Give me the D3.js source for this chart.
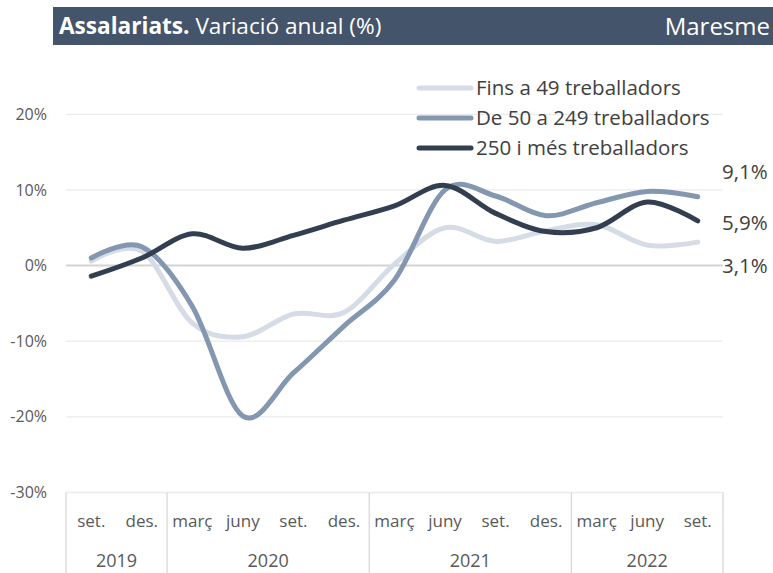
<!DOCTYPE html>
<html>
<head>
<meta charset="utf-8">
<script src="https://cdn.jsdelivr.net/npm/d3@7"></script>
<style>
  body { margin: 0; background: #fff; }
  text { font-family: "Open Sans", Lato, sans-serif; }
</style>
</head>
<body>
<div id="chart"></div>
<script>
// Categories (quarters) and the year groups under them
const months = ["set.", "des.", "març", "juny", "set.", "des.", "març", "juny", "set.", "des.", "març", "juny", "set."];
const years = ["2019", "2020", "2021", "2022"];
const quartersPerYear = [2, 4, 4, 3];

// Series values (% annual change)
const fins49 = [0.6, 1.9, -7.6, -9.4, -6.4, -6.2, 0.2, 5.0, 3.2, 4.6, 5.4, 2.7, 3.1];
const de50a249 = [1.0, 2.5, -5.4, -19.9, -14.2, -8.0, -1.9, 10.0, 9.2, 6.6, 8.3, 9.8, 9.1];
const mes250 = [-1.4, 1.0, 4.2, 2.3, 4.0, 6.0, 7.9, 10.6, 6.9, 4.5, 5.0, 8.4, 5.9];

const seriesNames = ["Fins a 49 treballadors", "De 50 a 249 treballadors", "250 i més treballadors"];
const yTicks = [20, 10, 0, -10, -20, -30];

const W = 773, H = 573;
const colors = ["#D6DCE5", "#8497B0", "#333F50"];

const svg = d3.select("#chart").append("svg")
  .attr("width", W)
  .attr("height", H);

// Title bar
svg.append("rect")
  .attr("x", 53).attr("y", 7)
  .attr("width", W - 53).attr("height", 38)
  .attr("fill", "#44546A");

const title = svg.append("text")
  .attr("x", 59).attr("y", 34)
  .attr("fill", "#fff")
  .style("font-size", "22.6px");
title.append("tspan").attr("font-weight", "bold").text("Assalariats.");
title.append("tspan").text(" Variació anual (%)");

svg.append("text")
  .attr("x", 770).attr("y", 35)
  .attr("text-anchor", "end")
  .attr("fill", "#fff")
  .style("font-size", "24px")
  .text("Maresme");

// Scales
const x = d3.scaleBand()
  .domain(d3.range(months.length))
  .range([66, 723]);

const y = d3.scaleLinear()
  .domain([-30, 20])
  .range([492.5, 114.3]);

const cx = i => x(i) + x.bandwidth() / 2;

// Gridlines
svg.append("g")
  .selectAll("line")
  .data(yTicks)
  .join("line")
  .attr("x1", 66).attr("x2", 723)
  .attr("y1", d => y(d)).attr("y2", d => y(d))
  .attr("stroke", d => d === 0 ? "#D4D4D4" : "#EBEBEB")
  .attr("stroke-width", d => d === 0 ? 2 : 1.3);

// Y axis labels
svg.append("g")
  .selectAll("text")
  .data(yTicks)
  .join("text")
  .attr("x", 47)
  .attr("y", d => y(d))
  .attr("dy", "0.35em")
  .attr("text-anchor", "end")
  .attr("fill", "#595959")
  .style("font-size", "16px")
  .text(d => d + "%");

// X axis: month labels, year groups and separators
svg.append("g")
  .selectAll("text")
  .data(months)
  .join("text")
  .attr("x", (d, i) => cx(i))
  .attr("y", 521)
  .attr("dy", "0.35em")
  .attr("text-anchor", "middle")
  .attr("fill", "#595959")
  .style("font-size", "17px")
  .text(d => d);

const starts = d3.cumsum([0].concat(quartersPerYear));
const groups = years.map((yr, i) => ({ year: yr, start: starts[i], end: starts[i + 1] }));

svg.append("g")
  .selectAll("line")
  .data(starts)
  .join("line")
  .attr("x1", d => x.range()[0] + d * x.step())
  .attr("x2", d => x.range()[0] + d * x.step())
  .attr("y1", 492.5).attr("y2", H)
  .attr("stroke", "#D9D9D9")
  .attr("stroke-width", 1.3);

svg.append("g")
  .selectAll("text")
  .data(groups)
  .join("text")
  .attr("x", d => x.range()[0] + (d.start + d.end) / 2 * x.step())
  .attr("y", 561)
  .attr("dy", "0.35em")
  .attr("text-anchor", "middle")
  .attr("fill", "#595959")
  .style("font-size", "18px")
  .text(d => d.year);

// Lines
const line = d3.line()
  .x((d, i) => cx(i))
  .y(d => y(d))
  .curve(d3.curveCardinal.tension(0));

const allSeries = [fins49, de50a249, mes250];

svg.append("g")
  .selectAll("path")
  .data(allSeries)
  .join("path")
  .attr("fill", "none")
  .attr("stroke", (d, i) => colors[i])
  .attr("stroke-width", 5)
  .attr("stroke-linecap", "round")
  .attr("stroke-linejoin", "round")
  .attr("d", line);

// End value labels
const endOffsets = [24, -25, 2];
svg.append("g")
  .selectAll("text")
  .data(allSeries)
  .join("text")
  .attr("x", 722)
  .attr("y", (d, i) => y(d[d.length - 1]) + endOffsets[i])
  .attr("dy", "0.35em")
  .attr("fill", "#404040")
  .style("font-size", "20.5px")
  .text(d => d3.format(".1f")(d[d.length - 1]).replace(".", ",") + "%");

// Legend
const legend = svg.append("g")
  .selectAll("g")
  .data(seriesNames)
  .join("g")
  .attr("transform", (d, i) => `translate(0,${88 + i * 30})`);

legend.append("line")
  .attr("x1", 419).attr("x2", 471)
  .attr("stroke", (d, i) => colors[i])
  .attr("stroke-width", 5)
  .attr("stroke-linecap", "round");

legend.append("text")
  .attr("x", 476)
  .attr("dy", "0.35em")
  .attr("fill", "#404040")
  .style("font-size", "20.5px")
  .text(d => d);
</script>
</body>
</html>
